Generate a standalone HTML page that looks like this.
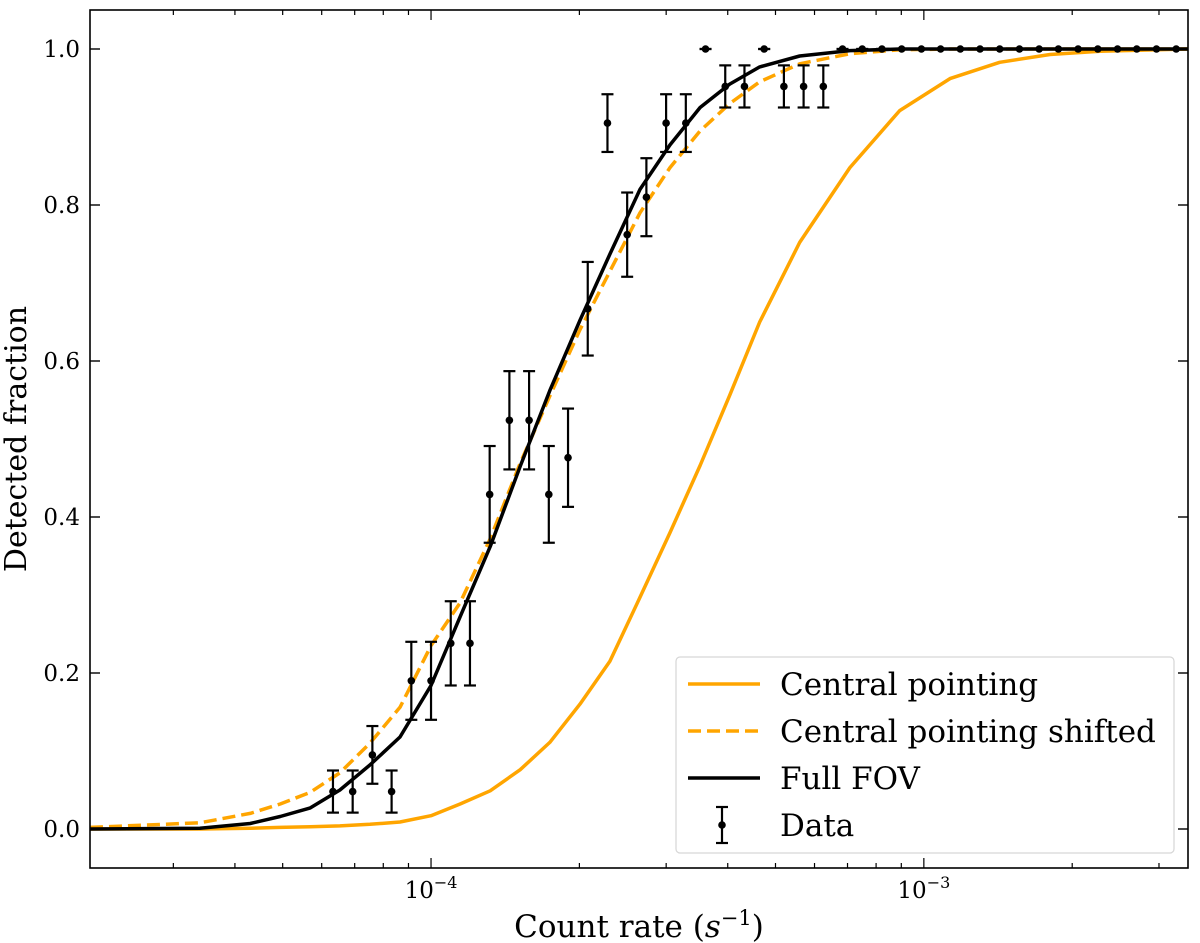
<!DOCTYPE html>
<html><head><meta charset="utf-8"><style>
html,body{margin:0;padding:0;background:#fff;}
svg{display:block;font-family:"DejaVu Serif","Liberation Serif",serif;}
</style></head><body>
<svg id="chart" width="1200" height="943" viewBox="0 0 1200 943" xmlns="http://www.w3.org/2000/svg">
<g id="curves"></g>
<g id="points"></g>
<rect x="90" y="10" width="1098" height="858" fill="none" stroke="#000" stroke-width="1.6"/>
<g id="ticks"></g>
<text x="639" y="937" font-size="31" text-anchor="middle">Count rate (<tspan font-style="italic">s</tspan><tspan font-size="21" dy="-12">−1</tspan><tspan dy="12">)</tspan></text>
<text transform="translate(26,439) rotate(-90)" font-size="30" text-anchor="middle">Detected fraction</text>
<g>
<rect x="676" y="657" width="498" height="196" rx="4" fill="#fff" fill-opacity="0.8" stroke="#d6d6d6" stroke-width="1.2"/>
<line x1="688" y1="684" x2="760" y2="684" stroke="#ffa500" stroke-width="3.5"/>
<text x="780" y="695" font-size="31">Central pointing</text>
<line x1="688" y1="731" x2="760" y2="731" stroke="#ffa500" stroke-width="3.5" stroke-dasharray="13,6"/>
<text x="780" y="742" font-size="31">Central pointing shifted</text>
<line x1="688" y1="778" x2="760" y2="778" stroke="#000" stroke-width="3.5"/>
<text x="780" y="789" font-size="31">Full FOV</text>
<g stroke="#000" stroke-width="2.2">
<line x1="722" y1="807" x2="722" y2="843"/><line x1="716" y1="807" x2="728" y2="807"/><line x1="716" y1="843" x2="728" y2="843"/>
<circle cx="722" cy="825" r="3.8" fill="#000" stroke="none"/></g>
<text x="780" y="836" font-size="31">Data</text>
</g>
</svg>
<script>
const curveLogRate=[-4.692,-4.469,-4.367,-4.306,-4.245,-4.185,-4.124,-4.063,-4,-3.941,-3.880,-3.819,-3.759,-3.698,-3.637,-3.576,-3.515,-3.454,-3.394,-3.333,-3.252,-3.150,-3.049,-2.947,-2.846,-2.744,-2.643,-2.464];
const centralFrac=[0,0,0.001,0.002,0.003,0.004,0.006,0.009,0.017,0.032,0.049,0.076,0.111,0.16,0.215,0.297,0.38,0.466,0.556,0.65,0.752,0.848,0.921,0.962,0.983,0.993,0.997,1];
const shiftedFrac=[0.002,0.008,0.02,0.032,0.047,0.072,0.11,0.156,0.235,0.29,0.372,0.469,0.555,0.64,0.715,0.79,0.848,0.895,0.93,0.958,0.981,0.994,0.999,1,1,1,1,1];
const fovFrac=[0,0.001,0.007,0.016,0.027,0.05,0.082,0.118,0.184,0.272,0.362,0.465,0.562,0.652,0.737,0.82,0.877,0.925,0.955,0.977,0.991,0.998,1,1,1,1,1,1];
const dataLogRate=[-4.199,-4.159,-4.119,-4.080,-4.040,-4.000,-3.960,-3.921,-3.881,-3.841,-3.801,-3.761,-3.722,-3.682,-3.642,-3.602,-3.563,-3.523,-3.483,-3.443,-3.403,-3.364,-3.324,-3.284,-3.244,-3.204,-3.165,-3.125,-3.085,-3.045,-3.005,-2.966,-2.926,-2.886,-2.846,-2.806,-2.766,-2.727,-2.687,-2.647,-2.607,-2.568,-2.528,-2.488];
const dataFrac=[0.048,0.048,0.095,0.048,0.19,0.19,0.238,0.238,0.429,0.524,0.524,0.429,0.476,0.667,0.905,0.762,0.81,0.905,0.905,1,0.952,0.952,1,0.952,0.952,0.952,1,1,1,1,1,1,1,1,1,1,1,1,1,1,1,1,1,1];
const dataErr=[0.027,0.027,0.037,0.027,0.05,0.05,0.054,0.054,0.062,0.063,0.063,0.062,0.063,0.06,0.037,0.054,0.05,0.037,0.037,0,0.027,0.027,0,0.027,0.027,0.027,0,0,0,0,0,0,0,0,0,0,0,0,0,0,0,0,0,0];
const yTicks=[0,0.2,0.4,0.6,0.8,1.0];
const yTickLabels=["0.0","0.2","0.4","0.6","0.8","1.0"];
const xMajor=[-4,-3];
const xMajorLabels=["−4","−3"];

const NS="http://www.w3.org/2000/svg";
const X0=90,X1=1188,LMIN=-4.692,LMAX=-2.464;
function xs(l){return X0+(l-LMIN)/(LMAX-LMIN)*(X1-X0);}
function ys(v){return 829-v*780;}
function mk(tag,attrs,parent){const e=document.createElementNS(NS,tag);for(const k in attrs)e.setAttribute(k,attrs[k]);parent.appendChild(e);return e;}
const cg=document.getElementById('curves');
function curve(vals,color,dash,name){
  const d=vals.map((v,i)=>(i?'L':'M')+xs(curveLogRate[i]).toFixed(1)+','+ys(v).toFixed(1)).join(' ');
  const p=mk('path',{d:d,fill:'none',stroke:color,'stroke-width':3.5,'stroke-linejoin':'round'},cg);
  if(dash)p.setAttribute('stroke-dasharray',dash);
  
  
}
curve(centralFrac,'#ffa500',null,'central-pointing-line');
curve(shiftedFrac,'#ffa500','13,6','central-pointing-shifted-line');
curve(fovFrac,'#000',null,'full-fov-line');
const pg=document.getElementById('points');
dataLogRate.forEach((l,i)=>{
  const x=xs(l),y=ys(dataFrac[i]),e=dataErr[i]*780;
  const g=mk('g',{stroke:'#000','stroke-width':2.2},pg);
  
  
  mk('line',{x1:x,y1:y-e,x2:x,y2:y+e},g);
  mk('line',{x1:x-6,y1:y-e,x2:x+6,y2:y-e},g);
  mk('line',{x1:x-6,y1:y+e,x2:x+6,y2:y+e},g);
  mk('circle',{cx:x,cy:y,r:3.8,fill:'#000',stroke:'none'},g);
});
const tg=document.getElementById('ticks');
yTicks.forEach((v,i)=>{
  const y=ys(v);
  const t=mk('line',{x1:90,y1:y,x2:100,y2:y,stroke:'#000','stroke-width':1.4},tg);
  
  
  mk('line',{x1:1178,y1:y,x2:1188,y2:y,stroke:'#000','stroke-width':1.4},tg);
  const tx=mk('text',{x:80,y:y+8,'font-size':23,'text-anchor':'end'},tg);
  tx.textContent=yTickLabels[i];
  
  
});
for(let dec=-5;dec<=-3;dec++){
  for(let m=1;m<10;m++){
    const l=dec+Math.log10(m);
    if(l<LMIN||l>LMAX)continue;
    const x=xs(l),len=(m===1)?10:5;
    const t=mk('line',{x1:x,y1:868,x2:x,y2:868-len,stroke:'#000','stroke-width':1.2},tg);
    
    
    mk('line',{x1:x,y1:10,x2:x,y2:10+len,stroke:'#000','stroke-width':1.2},tg);
  }
}
xMajor.forEach((l,i)=>{
  const tx=mk('text',{x:xs(l),y:898,'font-size':23,'text-anchor':'middle'},tg);
  
  
  const a=mk('tspan',{},tx);a.textContent='10';
  const b=mk('tspan',{dy:-10,'font-size':16},tx);b.textContent=xMajorLabels[i];
});
</script>
</body></html>
